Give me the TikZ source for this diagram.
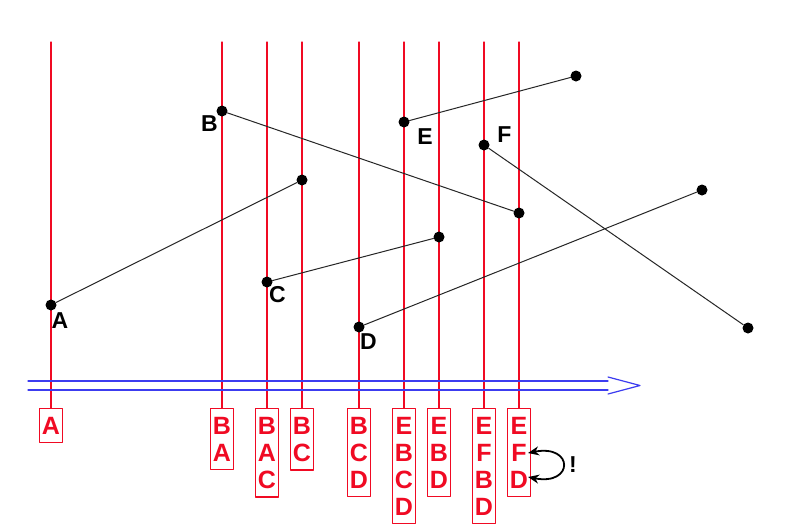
\documentclass[tikz,border=0pt]{standalone}
\usepackage{fontspec}
\setmainfont{Liberation Sans}
\usetikzlibrary{arrows.meta}
\definecolor{sweepblue}{RGB}{60,60,240}
\definecolor{evred}{RGB}{240,10,35}
\begin{document}
\begin{tikzpicture}[x=1pt, y=-1pt, line join=round, line cap=round, >=Stealth,
	pt/.style={circle, fill=black, inner sep=0pt, minimum size=11pt},
	seg/.style={black!85, line width=1pt},
	lbl/.style={inner sep=0pt, font=\fontsize{23}{23}\selectfont\bfseries},
	evbox/.style={draw=evred, text=evred, line width=1.1pt, minimum width=23pt, inner xsep=2pt, inner ysep=8.5pt,
		align=center, anchor=north, font=\fontsize{25}{27}\selectfont\bfseries},
	sweep/.style={evred, line width=1.1pt},
	dir/.style={sweepblue, line width=1.2pt}]
	\fill[white] (0,0) rectangle (803,528);
	\useasboundingbox (0,0) rectangle (803,528);
	\coordinate (top) at (0,42);
	% status boxes
	\node[evbox] (b1) at (51,408) {A};
	\node[evbox] (b2) at (222,408) {B\\A};
	\node[evbox] (b3) at (267,408) {B\\A\\C};
	\node[evbox] (b4) at (302,408) {B\\C};
	\node[evbox] (b5) at (359,408) {B\\C\\D};
	\node[evbox] (b6) at (404,408) {E\\B\\C\\D};
	\node[evbox] (b7) at (439,408) {E\\B\\D};
	\node[evbox] (b8) at (484,408) {E\\F\\B\\D};
	\node[evbox] (b9) at (519,408) {E\\F\\D};
	\foreach \i in {1,...,9}
		\draw[sweep] (b\i.north |- top) -- (b\i.north);
	% sweep direction
	\draw[dir] (28,381) -- (608,381) (28,390) -- (608,390);
	\draw[dir] (608,377) -- (640,385.5) -- (608,394);
	% segments
	\node[pt] (A1) at (51,305) {};
	\node[pt] (A2) at (302,180) {};
	\node[pt] (B1) at (222,111) {};
	\node[pt] (B2) at (519,213) {};
	\node[pt] (C1) at (267,282) {};
	\node[pt] (C2) at (439,237) {};
	\node[pt] (D1) at (359,327) {};
	\node[pt] (D2) at (702,190) {};
	\node[pt] (E1) at (404,122) {};
	\node[pt] (E2) at (576,76) {};
	\node[pt] (F1) at (484,145) {};
	\node[pt] (F2) at (748,328) {};
	\foreach \s in {A,B,C,D,E,F}
		\draw[seg] (\s1) -- (\s2);
	\node[lbl] (lA) at (60,320.5) {A};
	\node[lbl] (lB) at (209.5,123.5) {B};
	\node[lbl] (lC) at (277.5,295) {C};
	\node[lbl] (lD) at (368.5,341.5) {D};
	\node[lbl] (lE) at (425,137) {E};
	\node[lbl] (lF) at (504.5,135) {F};
	% swap
	\coordinate (fR) at (528,453);
	\coordinate (dR) at (528,477);
	\draw[line width=1.8pt, {Stealth[length=11pt,width=9pt]}-{Stealth[length=11pt,width=9pt]}] (fR) .. controls (574,444) and (574,486) .. (dR);
	\node[lbl] (bang) at (573,465) {!};
\end{tikzpicture}
\end{document}
